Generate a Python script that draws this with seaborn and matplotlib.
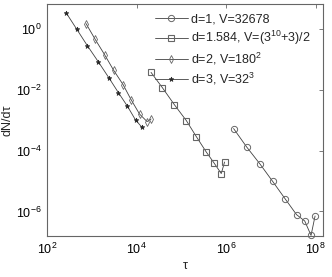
import numpy as np
import matplotlib
matplotlib.use("Agg")
import matplotlib.pyplot as plt
import seaborn as sns
from matplotlib.ticker import NullLocator

# ---- data ----
labels = ["d=1, V=32678", "d=1.584, V=(3$^{10}$+3)/2", "d=2, V=180$^{2}$", "d=3, V=32$^{3}$"]

tau_d1 = [1.466e6, 2.891e6, 5.794e6, 1.091e7, 2.080e7, 3.758e7, 5.728e7, 7.925e7, 9.75e7]
dn_d1 = [5.40e-4, 1.32e-4, 3.56e-5, 9.89e-6, 2.62e-6, 7.83e-7, 4.83e-7, 1.62e-7, 7.05e-7]

tau_d158 = [20893, 37325, 69183, 128530, 214780, 359750, 543250, 778030, 922570]
dn_d158 = [0.0383, 0.0121, 0.00333, 0.000989, 0.000294, 9.06e-5, 3.85e-5, 1.77e-5, 4.25e-5]

tau_d2 = [735, 1167, 1905, 3027, 4943, 7464, 11561, 17022, 20893]
dn_d2 = [1.55, 0.479, 0.148, 0.0456, 0.0152, 0.00486, 0.00162, 0.000916, 0.00111]

tau_d3 = [262, 454, 785, 1384, 2366, 3882, 6166, 9419, 13152]
dn_d3 = [3.58, 1.02, 0.292, 0.0855, 0.0258, 0.00828, 0.00297, 0.00103, 0.00059]

xtick_vals = [1e2, 1e4, 1e6, 1e8]
ytick_vals = [1e0, 1e-2, 1e-4, 1e-6]

sns.set_style("white")
plt.rcParams['font.family'] = ['Liberation Sans', 'DejaVu Sans']
plt.rcParams['mathtext.fontset'] = 'custom'
plt.rcParams['mathtext.rm'] = 'Liberation Sans'
plt.rcParams['mathtext.it'] = 'Liberation Sans'

fig = plt.figure(figsize=(3.32, 2.77), dpi=100)
ax = fig.add_axes([0.1425, 0.148, 0.8295, 0.839])

line_c = '0.25'
edge_c = '0.4'
series = [
    (tau_d1, dn_d1, 'o', 4.5, 'none', 0.7),
    (tau_d158, dn_d158, 's', 4.5, 'none', 0.8),
    (tau_d2, dn_d2, 'd', 4.0, 'none', 0.6),
    (tau_d3, dn_d3, '*', 3.5, '0.15', 0.5),
]
for (xs, ys, mk, ms, mfc, mew), lab in zip(series, labels):
    sns.lineplot(x=xs, y=ys, ax=ax, sort=False, estimator=None,
                 color=line_c, linewidth=0.6, marker=mk, markersize=ms,
                 markerfacecolor=mfc, markeredgecolor=edge_c if mfc == 'none' else '0.15',
                 markeredgewidth=mew, label=lab, clip_on=False)

ax.set_xscale('log')
ax.set_yscale('log')
ax.set_xlim(1e2, 10**8.16)
ax.set_ylim(10**-6.81, 10**0.85)
ax.set_xticks(xtick_vals)
ax.set_yticks(ytick_vals)
ax.xaxis.set_minor_locator(NullLocator())
ax.yaxis.set_minor_locator(NullLocator())
ax.tick_params(direction='in', length=3, width=0.6, color='0.4',
               top=True, right=True, labelsize=9, colors='black', pad=4)
ax.tick_params(axis='both', which='both', color='0.4')
for sp in ax.spines.values():
    sp.set_visible(True)
    sp.set_color('0.4')
    sp.set_linewidth(0.8)

ax.set_xlabel('τ', fontsize=9, labelpad=2)
ax.set_ylabel('dN/dτ', fontsize=9, labelpad=2)

leg = ax.legend(loc='upper right', frameon=False, fontsize=9,
                handlelength=2.6, handletextpad=0.3, labelspacing=0.3,
                borderaxespad=0.2, bbox_to_anchor=(0.985, 0.99))

fig.savefig('out.png', dpi=100)
